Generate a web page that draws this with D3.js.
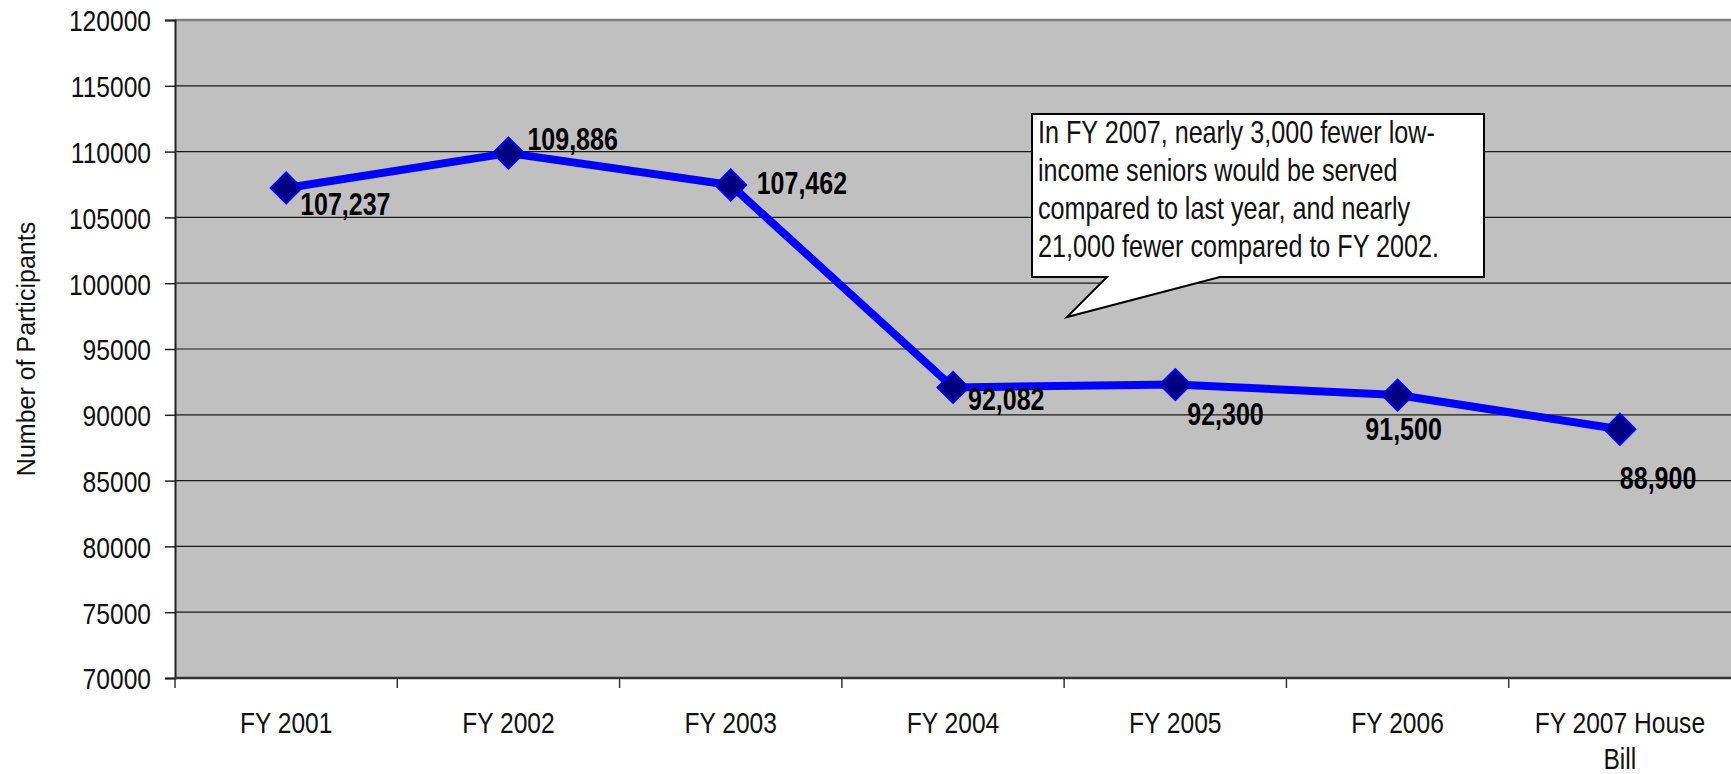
<!DOCTYPE html>
<html>
<head>
<meta charset="utf-8">
<script src="https://cdn.jsdelivr.net/npm/d3@7"></script>
<style>
body { margin: 0; background: #fff; }
text { font-family: "Liberation Sans", Arial, sans-serif; }
</style>
</head>
<body>
<div id="chart"></div>
<script>
// data
var categories = ["FY 2001", "FY 2002", "FY 2003", "FY 2004", "FY 2005", "FY 2006", "FY 2007 House Bill"];
var participants = [107237, 109886, 107462, 92082, 92300, 91500, 88900];
var yTicks = [70000, 75000, 80000, 85000, 90000, 95000, 100000, 105000, 110000, 115000, 120000];
var calloutLines = ["In FY 2007, nearly 3,000 fewer low-", "income seniors would be served", "compared to last year, and nearly", "21,000 fewer compared to FY 2002."];

// where each data label sits relative to its point
var labelPlace = [
  {anchor: "start", dx: 14, dy: 27},
  {anchor: "start", dx: 19, dy: -3},
  {anchor: "start", dx: 26, dy: 9},
  {anchor: "start", dx: 15, dy: 23},
  {anchor: "start", dx: 12, dy: 40},
  {anchor: "middle", dx: 6, dy: 45},
  {anchor: "start", dx: 0, dy: 60}
];

var W = 1731, H = 774;
var pLeft = 175, pRight = 1731, pTop = 20, pBottom = 678;
var NARROW = 0.82; // Arial Narrow is roughly Arial squeezed to 82%

var svg = d3.select("#chart").append("svg")
  .attr("width", W)
  .attr("height", H);

var x = d3.scaleBand().domain(categories).range([pLeft, pRight]).padding(0);
var y = d3.scaleLinear().domain([70000, 120000]).range([pBottom, pTop]);
var cx = function(c) { return x(c) + x.bandwidth() / 2; };

// narrow text helper
function ntext(parent, px, py, str) {
  return parent.append("g")
    .attr("transform", "translate(" + px + "," + py + ") scale(" + NARROW + ",1)")
    .append("text").text(str);
}

//plot area
svg.append("rect")
  .attr("x", pLeft).attr("y", pTop)
  .attr("width", pRight - pLeft).attr("height", pBottom - pTop)
  .style("fill", "#c0c0c0");

//gridlines
svg.selectAll(".grid").data(yTicks.slice(1)).enter().append("line")
  .attr("x1", pLeft).attr("x2", pRight)
  .attr("y1", function(d) { return y(d); })
  .attr("y2", function(d) { return y(d); })
  .attr("stroke", "#1a1a1a").attr("stroke-width", 1.2);

svg.append("line")
  .attr("x1", pLeft).attr("x2", pRight).attr("y1", pTop).attr("y2", pTop)
  .attr("stroke", "#808080").attr("stroke-width", 2.5);

//y axis
var yAxis = d3.axisLeft(y).tickValues(yTicks).tickSize(10).tickPadding(14).tickFormat(d3.format("d"));
var gy = svg.append("g").attr("transform", "translate(" + pLeft + ",0)").call(yAxis);
gy.select(".domain").attr("stroke", "#222").attr("stroke-width", 2);
gy.selectAll(".tick line").attr("stroke", "#222").attr("stroke-width", 1.5);
gy.selectAll(".tick text")
  .attr("x", -24 / NARROW)
  .attr("dy", "0.36em")
  .attr("transform", "scale(" + NARROW + ",1)")
  .style("font-family", "'Liberation Sans', Arial, sans-serif")
  .style("font-size", "30px").attr("fill", "#111");

//x axis
svg.append("line")
  .attr("x1", pLeft).attr("x2", pRight).attr("y1", pBottom).attr("y2", pBottom)
  .attr("stroke", "#333").attr("stroke-width", 2.5);
svg.selectAll(".xtick").data(categories).enter().append("line")
  .attr("x1", function(d) { return x(d); })
  .attr("x2", function(d) { return x(d); })
  .attr("y1", pBottom).attr("y2", pBottom + 10)
  .attr("stroke", "#333").attr("stroke-width", 1.5);

categories.forEach(function(c) {
  var parts = c === "FY 2007 House Bill" ? ["FY 2007 House", "Bill"] : [c];
  parts.forEach(function(p, i) {
    ntext(svg, cx(c), 733 + i * 36, p)
      .attr("text-anchor", "middle")
      .style("font-size", "30px").attr("fill", "#111");
  });
});

//y title
svg.append("text")
  .attr("transform", "translate(35," + ((pTop + pBottom) / 2) + ") rotate(-90)")
  .attr("text-anchor", "middle")
  .style("font-size", "25px").attr("fill", "#111")
  .text("Number of Participants");

//line
var line = d3.line()
  .x(function(d, i) { return cx(categories[i]); })
  .y(function(d) { return y(d); });
svg.append("path").datum(participants)
  .attr("d", line)
  .attr("fill", "none")
  .attr("stroke", "#0000ff")
  .attr("stroke-width", 8)
  .attr("stroke-linejoin", "round");

//markers
var diamond = d3.symbol().type(d3.symbolSquare).size(480);
svg.selectAll(".marker").data(participants).enter().append("path")
  .attr("d", diamond)
  .attr("transform", function(d, i) { return "translate(" + cx(categories[i]) + "," + y(d) + ") rotate(45)"; })
  .attr("fill", "#000080")
  .attr("stroke", "#0000ff")
  .attr("stroke-width", 2);

//data labels
participants.forEach(function(d, i) {
  ntext(svg, cx(categories[i]) + labelPlace[i].dx, y(d) + labelPlace[i].dy, d3.format(",")(d))
    .attr("text-anchor", labelPlace[i].anchor)
    .style("font-size", "30.5px").style("font-weight", "bold").attr("fill", "#000");
});

//callout
var bx = 1032, by = 114, bw = 452, bh = 163;
var tipX = 1067, tipY = 317;
svg.append("path")
  .attr("d", "M" + bx + "," + by + "H" + (bx + bw) + "V" + (by + bh) + "H1220L" + tipX + "," + tipY + "L1107," + (by + bh) + "H" + bx + "Z")
  .attr("fill", "#fff")
  .attr("stroke", "#000")
  .attr("stroke-width", 2);
calloutLines.forEach(function(t, i) {
  ntext(svg, bx + 6, 143 + i * 38, t)
    .style("font-size", "30.7px").attr("fill", "#111");
});
</script>
</body>
</html>
